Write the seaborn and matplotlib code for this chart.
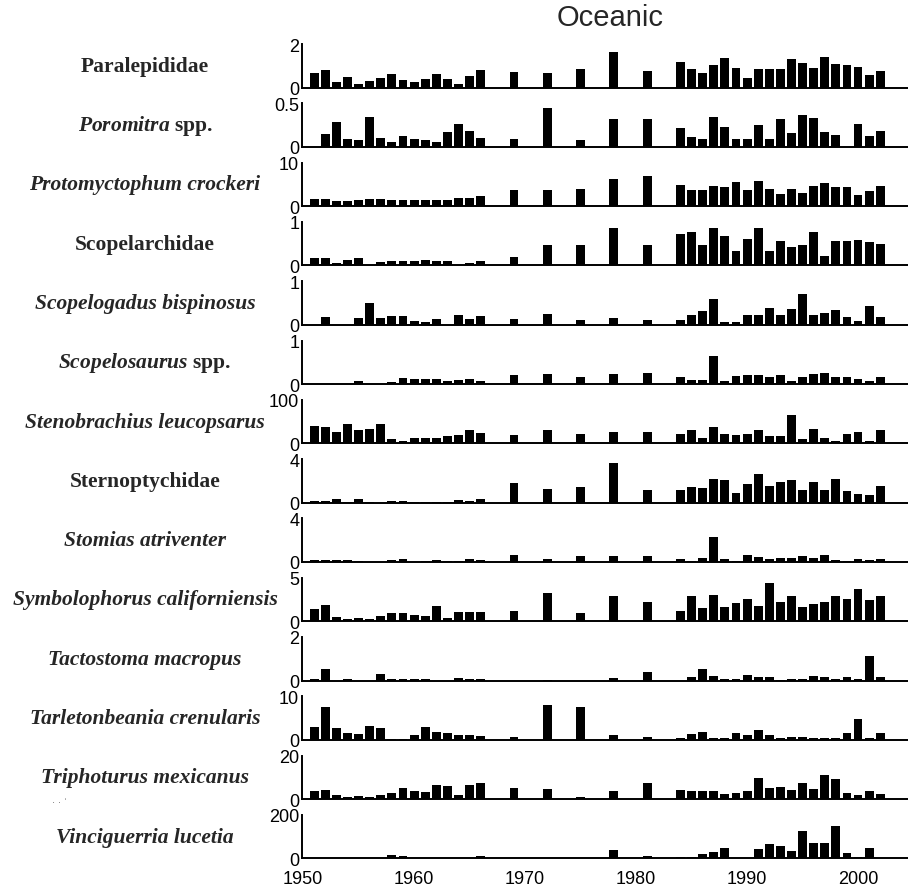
import numpy as np
import matplotlib
matplotlib.use("Agg")
import matplotlib.pyplot as plt
import seaborn as sns

sns.set_style("white")
plt.rcParams['font.family'] = ['Liberation Sans', 'DejaVu Sans']
plt.rcParams['mathtext.fontset'] = 'custom'
plt.rcParams['mathtext.it'] = 'Liberation Serif:italic:bold'
plt.rcParams['mathtext.rm'] = 'Liberation Serif:bold'

# survey years (1951-66, then every 3 yrs, then annual from 1984)
years = list(range(1951, 1967)) + [1969, 1972, 1975, 1978, 1981] + list(range(1984, 2003))

# taxa names (left labels), italic flag, and y-axis max
taxa = ["Paralepididae", "$Poromitra$ spp.", "Protomyctophum crockeri", "Scopelarchidae",
        "Scopelogadus bispinosus", "$Scopelosaurus$ spp.", "Stenobrachius leucopsarus",
        "Sternoptychidae", "Stomias atriventer", "Symbolophorus californiensis",
        "Tactostoma macropus", "Tarletonbeania crenularis", "Triphoturus mexicanus",
        "Vinciguerria lucetia"]
italic = [False, False, True, False, True, False, True, False, True, True, True, True, True, True]
ymax = [2, 0.5, 10, 1, 1, 1, 100, 4, 4, 5, 2, 10, 20, 200]
ytop_labels = ["2", "0.5", "10", "1", "1", "1", "100", "4", "4", "5", "2", "10", "20", "200"]

paralepididae = [0.65, 0.8, 0.27, 0.47, 0.17, 0.3, 0.42, 0.6, 0.35, 0.27, 0.38, 0.6, 0.39, 0.18, 0.54, 0.8,
                 0.72, 0.68, 0.87, 1.65, 0.77,
                 1.17, 0.87, 0.68, 1.02, 1.35, 0.9, 0.42, 0.87, 0.87, 0.87, 1.3, 1.11, 0.9, 1.4, 1.1, 1.05, 0.96, 0.57, 0.77]
poromitra = [0, 0.15, 0.285, 0.085, 0.073, 0.34, 0.104, 0.058, 0.123, 0.092, 0.077, 0.058, 0.17, 0.26, 0.18, 0.1,
             0.092, 0.45, 0.077, 0.315, 0.32,
             0.22, 0.11, 0.09, 0.34, 0.23, 0.085, 0.085, 0.245, 0.09, 0.315, 0.16, 0.37, 0.33, 0.17, 0.14, 0, 0.26, 0.12, 0.18]
protomyctophum = [1.7, 1.7, 1.1, 1.1, 1.3, 1.6, 1.6, 1.4, 1.4, 1.5, 1.4, 1.4, 1.4, 1.9, 1.8, 2.4,
                  3.6, 3.6, 3.9, 6.2, 7.0,
                  4.9, 3.7, 3.6, 4.7, 4.3, 5.6, 3.7, 5.8, 4.0, 2.8, 4.0, 3.0, 4.7, 5.4, 4.3, 4.3, 2.6, 3.5, 4.7]
scopelarchidae = [0.18, 0.18, 0.06, 0.12, 0.16, 0, 0.08, 0.09, 0.1, 0.1, 0.12, 0.11, 0.1, 0, 0.05, 0.1,
                  0.2, 0.47, 0.47, 0.85, 0.48,
                  0.73, 0.77, 0.48, 0.85, 0.67, 0.34, 0.6, 0.85, 0.34, 0.57, 0.43, 0.48, 0.77, 0.22, 0.56, 0.57, 0.58, 0.54, 0.5]
scopelogadus = [0, 0.18, 0, 0, 0.15, 0.5, 0.15, 0.2, 0.2, 0.08, 0.07, 0.14, 0, 0.22, 0.14, 0.2,
                0.14, 0.24, 0.11, 0.15, 0.1,
                0.1, 0.22, 0.32, 0.58, 0.07, 0.07, 0.22, 0.22, 0.38, 0.22, 0.37, 0.71, 0.22, 0.28, 0.33, 0.18, 0.08, 0.43, 0.18]
scopelosaurus = [0, 0, 0, 0, 0.08, 0, 0, 0.04, 0.13, 0.11, 0.11, 0.11, 0.08, 0.1, 0.11, 0.08,
                 0.2, 0.22, 0.16, 0.22, 0.26,
                 0.16, 0.1, 0.1, 0.64, 0.08, 0.18, 0.2, 0.2, 0.16, 0.2, 0.08, 0.16, 0.22, 0.26, 0.16, 0.16, 0.12, 0.08, 0.17]
stenobrachius = [39, 37, 27, 45, 30, 33, 45, 9, 5, 12, 12, 13, 16, 20, 30, 23,
                 18, 30, 21, 25, 27,
                 21, 30, 13, 38, 22, 18, 21, 30, 16, 17, 65, 9, 34, 12, 6, 21, 25, 6, 30]
sternoptychidae = [0.15, 0.15, 0.3, 0.1, 0.36, 0.03, 0, 0.12, 0.15, 0.03, 0.08, 0.1, 0.1, 0.24, 0.15, 0.33,
                   1.8, 1.27, 1.4, 3.6, 1.2,
                   1.15, 1.4, 1.33, 2.2, 2.1, 0.88, 1.73, 2.6, 1.5, 1.9, 2.1, 1.2, 1.9, 1.2, 2.15, 1.06, 0.82, 0.73, 1.5]
stomias = [0.15, 0.2, 0.2, 0.15, 0.12, 0, 0, 0.18, 0.28, 0.03, 0.12, 0.15, 0.05, 0.05, 0.3, 0.2,
           0.68, 0.3, 0.55, 0.55, 0.55,
           0.3, 0.12, 0.37, 2.3, 0.28, 0.06, 0.62, 0.43, 0.3, 0.34, 0.34, 0.52, 0.37, 0.68, 0.18, 0.12, 0.28, 0.18, 0.28]
symbolophorus = [1.4, 1.9, 0.45, 0.27, 0.35, 0.27, 0.55, 1.0, 1.0, 0.7, 0.65, 1.75, 0.35, 1.1, 1.1, 1.1,
                 1.15, 3.27, 1.0, 2.9, 2.15,
                 1.2, 2.9, 1.55, 3.05, 1.65, 2.05, 2.6, 1.75, 4.35, 2.2, 2.85, 1.65, 2.0, 2.2, 2.95, 2.5, 3.75, 2.4, 2.95]
tactostoma = [0.09, 0.53, 0, 0.05, 0, 0, 0.32, 0.06, 0.06, 0.09, 0.09, 0, 0, 0.12, 0.08, 0.06,
              0, 0.03, 0, 0.1, 0.38,
              0, 0.15, 0.54, 0.2, 0.09, 0.09, 0.25, 0.15, 0.15, 0.03, 0.07, 0.07, 0.22, 0.15, 0.09, 0.16, 0.07, 1.13, 0.17]
tarletonbeania = [3.0, 7.5, 2.7, 1.5, 1.3, 3.2, 2.6, 0.15, 0.15, 1.1, 3.0, 1.85, 1.45, 1.1, 1.1, 0.85,
                  0.7, 8.0, 7.6, 1.2, 0.7,
                  0.5, 1.4, 1.85, 0.45, 0.45, 1.6, 1.2, 2.15, 1.15, 0.3, 0.75, 0.75, 0.3, 0.3, 0.3, 1.6, 4.8, 0.5, 1.6]
triphoturus = [3.8, 4.3, 1.8, 1.1, 1.2, 0.8, 2.1, 2.7, 5.3, 3.5, 3.2, 6.7, 6.1, 1.7, 6.7, 7.2,
               5.3, 4.7, 1.1, 3.7, 7.3,
               4.3, 3.5, 3.5, 3.8, 2.3, 2.7, 3.7, 9.9, 5.2, 5.6, 4.1, 7.6, 4.6, 11, 9.2, 2.6, 1.7, 3.7, 2.3]
vinciguerria = [3, 0, 0, 0, 0, 0, 0, 14, 9, 1, 0, 0, 0, 0, 1, 11,
                1, 1, 0, 38, 11,
                5, 5, 18, 28, 46, 3, 3, 43, 65, 55, 34, 128, 71, 69, 148, 26, 5, 49, 1]

series = [paralepididae, poromitra, protomyctophum, scopelarchidae, scopelogadus, scopelosaurus,
          stenobrachius, sternoptychidae, stomias, symbolophorus, tactostoma, tarletonbeania,
          triphoturus, vinciguerria]

W, H = 908, 887
fig = plt.figure(figsize=(W / 100, H / 100), dpi=100)

for i in range(14):
    top = 45 + i * 59.3
    h = 43.5
    ax = fig.add_axes([302 / W, 1 - (top + h) / H, 606 / W, h / H])
    sns.barplot(x=years, y=series[i], native_scale=True, color="black", saturation=1,
                width=0.8, errorbar=None, ax=ax, linewidth=0)
    ax.set_xlim(1949.9, 2004.5)
    ax.set_ylim(0, ymax[i])
    ax.set_yticks([0, ymax[i]])
    ax.set_yticklabels(["0", ytop_labels[i]])
    ax.set_xticks([1950, 1960, 1970, 1980, 1990, 2000])
    if i == 13:
        ax.set_xticklabels(["1950", "1960", "1970", "1980", "1990", "2000"])
    else:
        ax.set_xticklabels([])
    ax.set_xlabel("")
    ax.set_ylabel("")
    for s in ["top", "right"]:
        ax.spines[s].set_visible(False)
    for s in ["left", "bottom"]:
        ax.spines[s].set_linewidth(1.4)
        ax.spines[s].set_color("black")
    ax.tick_params(direction="in", length=5, width=1.3, labelsize=13, colors="black", pad=2)
    ax.tick_params(axis="x", pad=8)
    ax.patch.set_alpha(0)

    # taxon label on the left
    yc = 1 - (top + h / 2) / H
    fig.text(145 / W, yc, taxa[i], ha="center", va="center", fontsize=15.5,
             family="Liberation Serif", weight="bold",
             style="italic" if italic[i] else "normal")

fig.text(610 / W, 1 - 18 / H, "Oceanic", ha="center", va="center", fontsize=21)
fig.text(60 / W, 1 - 803 / H, "· · ˈ", ha="center", va="center", fontsize=7, color="0.35")

fig.savefig("out.png", dpi=100)
